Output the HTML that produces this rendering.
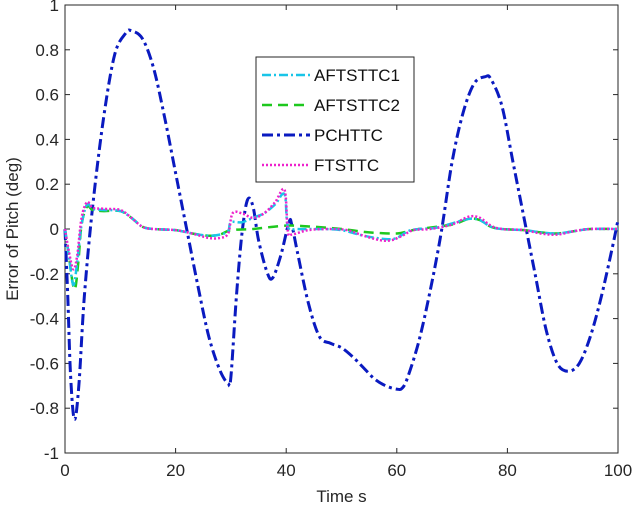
<!DOCTYPE html>
<html><head><meta charset="utf-8"><style>
body{margin:0;background:#fff;}
svg{display:block;font-family:"Liberation Sans",sans-serif;}
</style></head><body>
<svg id="chart" width="643" height="512">
<rect x="0" y="0" width="643" height="512" fill="#fff"/>
<g id="plot"></g>
</svg>
<script>
const xTicks=[0,20,40,60,80,100];
const yTicks=[-1,-0.8,-0.6,-0.4,-0.2,0,0.2,0.4,0.6,0.8,1];
const yTickLabels=["-1","-0.8","-0.6","-0.4","-0.2","0","0.2","0.4","0.6","0.8","1"];
const seriesNames=["AFTSTTC1","AFTSTTC2","PCHTTC","FTSTTC"];
const pchT=[0,0.5,1,1.7,2.5,3.5,5,7,9,11,12,14,16,18,20,22,24,26,28,29.5,30,31,32,33,34,35,36.5,37.5,39,40.5,41,42,44,46,48,50,52,54,56,58,60,61,62,64,66,68,70,72,74,76,77,79,81,83,85,87,89,91,93,95,97,99,100];
const pchV=[0,-0.3,-0.65,-0.85,-0.7,-0.3,0.1,0.5,0.78,0.875,0.885,0.85,0.72,0.5,0.25,0,-0.25,-0.48,-0.63,-0.69,-0.66,-0.3,-0.02,0.13,0.1,-0.05,-0.19,-0.22,-0.12,0.03,0.02,-0.1,-0.33,-0.48,-0.51,-0.53,-0.57,-0.62,-0.67,-0.7,-0.715,-0.71,-0.66,-0.5,-0.28,-0.02,0.3,0.52,0.65,0.68,0.67,0.55,0.3,0.05,-0.2,-0.45,-0.6,-0.635,-0.6,-0.48,-0.3,-0.08,0.04];
const a1T=[0,0.7,1.5,2.2,3,4,5,7,10,12,14,16,20,23,26,28,29.5,30,32,34,36,38,39.7,40.3,42,46,50,54,58,60,62,64,67,70,73,75,77,79,83,86,89,92,95,100];
const a1V=[0,-0.12,-0.25,-0.15,0.02,0.11,0.09,0.085,0.08,0.05,0.01,0,-0.005,-0.02,-0.03,-0.025,-0.01,0.03,0.03,0.05,0.07,0.11,0.155,0.01,0,0,-0.005,-0.03,-0.045,-0.04,-0.01,0,0.005,0.025,0.045,0.04,0.01,0,-0.005,-0.015,-0.02,-0.01,0,0];
const a2T=[0,0.7,1.7,2.4,3,4,5,7,10,12,14,16,20,23,26,28,30,34,40,45,50,55,60,62,64,70,73,75,77,79,83,86,89,92,95,100];
const a2V=[0,-0.12,-0.27,-0.15,0.02,0.1,0.085,0.08,0.08,0.05,0.01,0,-0.005,-0.02,-0.03,-0.025,-0.005,0,0.015,0.01,0,-0.015,-0.02,-0.01,0,0.02,0.045,0.04,0.01,0,-0.005,-0.015,-0.02,-0.01,0,0];
const ftT=[0,0.7,1.5,2.2,3,4,5,7,10,12,14,16,20,23,26,28,29.5,30.3,32,34,36,38,39.7,40.3,41,44,48,51,54,57,59,61,63,66,70,73,75,77,79,83,86,89,92,95,100];
const ftV=[0,-0.1,-0.18,-0.12,0.05,0.12,0.095,0.09,0.085,0.05,0.01,0,-0.005,-0.02,-0.04,-0.04,-0.02,0.07,0.07,0.05,0.07,0.12,0.175,-0.01,-0.025,-0.005,0,-0.005,-0.03,-0.05,-0.05,-0.03,-0.005,0,0.02,0.055,0.05,0.015,0,-0.005,-0.02,-0.025,-0.01,0,0];

const L=65,R=618,T=5,B=453;
const sx=v=>L+(v-0)/100*(R-L);
const sy=v=>B-(v+1)/2*(B-T);
const NS="http://www.w3.org/2000/svg";
const g=document.getElementById('plot');
function mk(tag,attrs,parent){const e=document.createElementNS(NS,tag);for(const k in attrs)e.setAttribute(k,attrs[k]);(parent||g).appendChild(e);return e;}

mk('rect',{x:L,y:T,width:R-L,height:B-T,fill:'#fff',stroke:'#262626','stroke-width':1});
xTicks.forEach(t=>{
  mk('line',{x1:sx(t),x2:sx(t),y1:B,y2:B-5,stroke:'#262626'});
  mk('line',{x1:sx(t),x2:sx(t),y1:T,y2:T+5,stroke:'#262626'});
  const tx=mk('text',{x:sx(t),y:B+23,'text-anchor':'middle','font-size':17,fill:'#262626'});
  
  
  tx.textContent=t;
});
yTicks.forEach((t,i)=>{
  mk('line',{x1:L,x2:L+5,y1:sy(t),y2:sy(t),stroke:'#262626'});
  mk('line',{x1:R,x2:R-5,y1:sy(t),y2:sy(t),stroke:'#262626'});
  const tx=mk('text',{x:L-6,y:sy(t)+6,'text-anchor':'end','font-size':17,fill:'#262626'});
  
  
  tx.textContent=yTickLabels[i];
});
const xt=mk('text',{x:sx(50),y:502,'text-anchor':'middle','font-size':17,fill:'#262626'});


xt.textContent='Time s';
const yt=mk('text',{x:0,y:0,transform:'translate(18,'+sy(0)+') rotate(-90)','text-anchor':'middle','font-size':17,fill:'#262626'});


yt.textContent='Error of Pitch (deg)';

function pathD(ts,vs){
  const p=ts.map((t,i)=>[sx(t),sy(vs[i])]);
  let d='M'+p[0][0]+','+p[0][1];
  for(let i=0;i<p.length-1;i++){
    const p0=p[Math.max(0,i-1)],p1=p[i],p2=p[i+1],p3=p[Math.min(p.length-1,i+2)];
    const c1=[p1[0]+(p2[0]-p0[0])/6,p1[1]+(p2[1]-p0[1])/6];
    const c2=[p2[0]-(p3[0]-p1[0])/6,p2[1]-(p3[1]-p1[1])/6];
    d+=' C'+c1+' '+c2+' '+p2;
  }
  return d;
}
const styles=[
 {c:'#19c5e8',w:2.5,da:'9,3,2,3'},
 {c:'#1ec81e',w:2.5,da:'10,6'},
 {c:'#0a1ac0',w:3,da:'11,4,3,4'},
 {c:'#ee22cc',w:2.5,da:'2,2'}];
const data=[[a1T,a1V],[a2T,a2V],[pchT,pchV],[ftT,ftV]];
const order=[2,1,0,3];
order.forEach(i=>{
  const s=styles[i];
  const p=mk('path',{d:pathD(data[i][0],data[i][1]),fill:'none',stroke:s.c,'stroke-width':s.w,'stroke-dasharray':s.da});
  
  
});
const lg=mk('g',{});


mk('rect',{x:256,y:57,width:158,height:125,fill:'#fff',stroke:'#262626','stroke-width':1},lg);
seriesNames.forEach((n,i)=>{
  const y=75+i*30;
  const s=styles[i];
  const e=mk('g',{},lg);
  
  
  mk('line',{x1:262,x2:310,y1:y,y2:y,stroke:s.c,'stroke-width':s.w,'stroke-dasharray':s.da},e);
  const t=mk('text',{x:314,y:y+6,'font-size':17,fill:'#111'},e);
  t.textContent=n;
});
</script>
</body></html>
